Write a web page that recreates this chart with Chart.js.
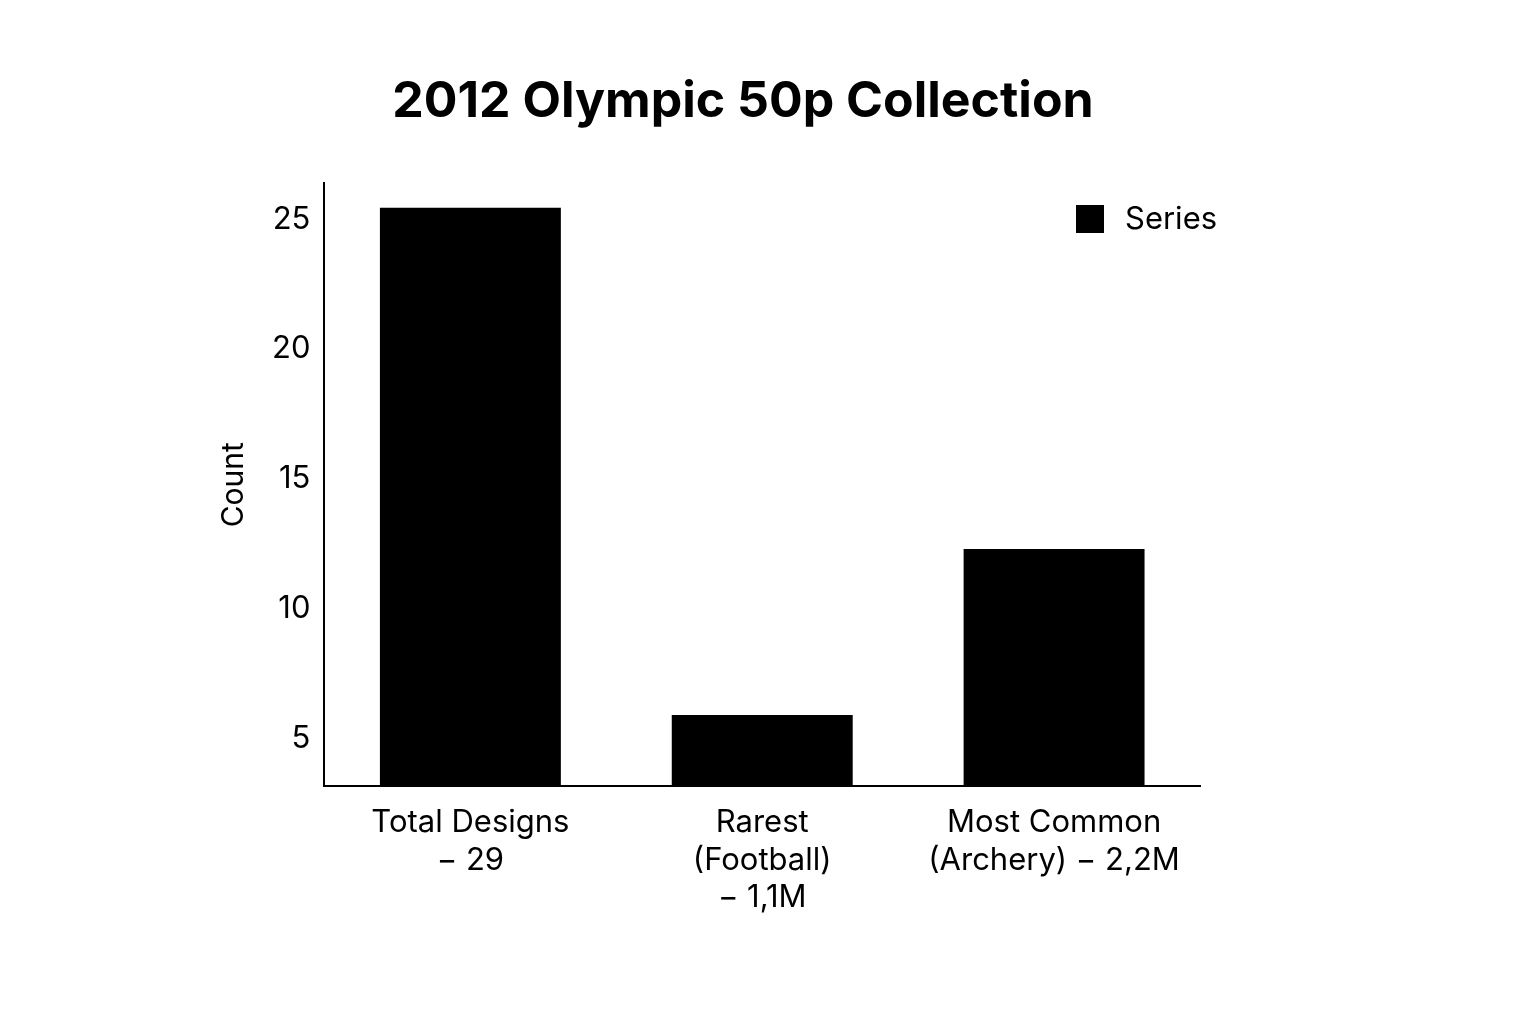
<!DOCTYPE html>
<html>
<head>
<meta charset="utf-8">
<script src="https://cdn.jsdelivr.net/npm/chart.js@4"></script>
<style>
html,body{margin:0;padding:0;background:#fff;}
#wrap{width:1536px;height:1024px;}
</style>
</head>
<body>
<div id="wrap"><canvas id="c" width="1536" height="1024"></canvas></div>
<script>
const categories = [["Total Designs", "\u2212 29"], ["Rarest", "(Football)", "\u2212 1,1M"], ["Most Common", "(Archery) \u2212 2,2M"]];
const values = [25.45, 5.9, 12.3];
const yTicks = [5, 10, 15, 20, 25];
const titleText = "2012 Olympic 50p Collection";
const seriesName = "Series";

const font = "Inter, 'DejaVu Sans', sans-serif";

// title and legend drawn by hand so they sit where the reference has them
const decor = {
  id: 'decor',
  afterDraw(chart) {
    const ctx = chart.ctx, a = chart.chartArea;
    ctx.save();
    ctx.fillStyle = "#000";
    ctx.textBaseline = "middle";
    ctx.textAlign = "center";
    ctx.font = "bold 50px " + font;
    ctx.fillText(titleText, 743, 102);
    ctx.fillRect(a.right - 124, a.top + 22, 28, 28);
    ctx.textAlign = "left";
    ctx.font = "31px " + font;
    ctx.fillText(seriesName, a.right - 75, a.top + 37);
    ctx.restore();
  }
};

new Chart(document.getElementById("c"), {
  type: 'bar',
  data: {
    labels: categories,
    datasets: [{
      label: seriesName,
      data: values,
      backgroundColor: "#000",
      categoryPercentage: 0.62,
      barPercentage: 1
    }]
  },
  options: {
    responsive: false,
    animation: false,
    layout: { padding: { left: 212, right: 336, top: 183, bottom: 90 } },
    plugins: {
      title: { display: false },
      legend: { display: false },
      tooltip: { enabled: false }
    },
    scales: {
      x: {
        grid: { display: false, drawTicks: false },
        border: { color: "#000", width: 2 },
        ticks: { color: "#000", font: { family: font, size: 31 }, maxRotation: 0, padding: 18 }
      },
      y: {
        min: 3.15,
        max: 26.4,
        afterBuildTicks: s => { s.ticks = yTicks.map(v => ({ value: v })); },
        grid: { display: false, drawTicks: true, tickLength: 8, tickColor: "#000" },
        border: { color: "#000", width: 2 },
        title: { display: true, text: "Count", color: "#000", font: { family: font, size: 30 }, padding: { bottom: 14 } },
        ticks: { color: "#000", font: { family: font, size: 31 }, padding: 6 }
      }
    }
  },
  plugins: [decor]
});
</script>
</body>
</html>
